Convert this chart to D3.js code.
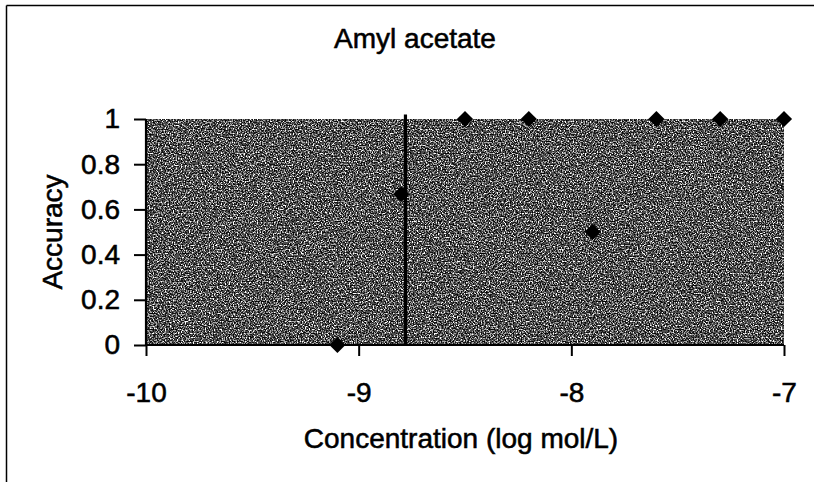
<!DOCTYPE html>
<html>
<head>
<meta charset="utf-8">
<script src="https://cdn.jsdelivr.net/npm/d3@7"></script>
<style>
  html, body { margin: 0; padding: 0; background: #fff; overflow: hidden; }
  svg { display: block; }
  text { font-family: "Liberation Sans", Arial, sans-serif; fill: #000; }
</style>
</head>
<body>
<svg id="chart" width="814" height="482"></svg>
<script>
// ---- data ----
const title = "Amyl acetate";
const xLabel = "Concentration (log mol/L)";
const yLabel = "Accuracy";
const concentration = [-9.1, -8.8, -8.5, -8.2, -7.9, -7.6, -7.3, -7.0];
const accuracy = [0, 0.667, 1, 1, 0.5, 1, 1, 1];
const threshold = -8.78;
const xTicks = [-10, -9, -8, -7];
const xTickLabels = ["-10", "-9", "-8", "-7"];
const yTicks = [0, 0.2, 0.4, 0.6, 0.8, 1];
const yTickLabels = ["0", "0.2", "0.4", "0.6", "0.8", "1"];

// ---- layout ----
const W = 814, H = 482;
const plot = { left: 146, right: 784, top: 119, bottom: 345 };
const FONT = '"Liberation Sans", Arial, sans-serif';
const TEXT_STROKE = 0.55;

const svg = d3.select("#chart");
const x = d3.scaleLinear().domain([-10, -7]).range([plot.left, plot.right]);
const y = d3.scaleLinear().domain([0, 1]).range([plot.bottom, plot.top]);

// texture filter for the scanned grey plot area
const defs = svg.append("defs");
const f = defs.append("filter").attr("id", "grain")
  .attr("color-interpolation-filters", "sRGB")
  .attr("x", 0).attr("y", 0).attr("width", "100%").attr("height", "100%");
f.append("feTurbulence").attr("type", "fractalNoise").attr("baseFrequency", 0.75)
  .attr("numOctaves", 1).attr("seed", 7).attr("result", "t");
f.append("feColorMatrix").attr("in", "t").attr("type", "matrix")
  .attr("values", "1 0 0 0 0  1 0 0 0 0  1 0 0 0 0  0 0 0 0 1")
  .attr("result", "g");
const ct = f.append("feComponentTransfer").attr("in", "g").attr("result", "d");
["feFuncR", "feFuncG", "feFuncB"].forEach(n =>
  ct.append(n).attr("type", "discrete").attr("tableValues", "0 0 0 0.08 0.3 0.66 1 1 1"));
ct.append("feFuncA").attr("type", "linear").attr("slope", 0).attr("intercept", 1);
f.append("feComposite").attr("in", "d").attr("in2", "SourceGraphic").attr("operator", "in");

// background
svg.append("rect").attr("width", W).attr("height", H).attr("fill", "#fff");
// outer frame: only top and left edges are inside the picture
svg.append("line").attr("x1", 6.5).attr("x2", W).attr("y1", 5.5).attr("y2", 5.5)
  .attr("stroke", "#000").attr("stroke-width", 1.5);
svg.append("line").attr("x1", 6.5).attr("x2", 6.5).attr("y1", 5.5).attr("y2", H)
  .attr("stroke", "#000").attr("stroke-width", 1.5);

// plot area
const pw = x(-7) - x(-10), ph = y(0) - y(1);
svg.append("rect").attr("x", x(-10)).attr("y", y(1)).attr("width", pw).attr("height", ph)
  .attr("fill", "#555");
svg.append("rect").attr("x", x(-10)).attr("y", y(1)).attr("width", pw).attr("height", ph)
  .attr("fill", "#555").attr("filter", "url(#grain)");

// title
svg.append("text").attr("x", 415).attr("y", 48)
  .attr("text-anchor", "middle").attr("font-size", 28)
  .attr("stroke", "#000").attr("stroke-width", TEXT_STROKE).text(title);

// axes
const xAxis = d3.axisBottom(x).tickValues(xTicks).tickFormat((d, i) => xTickLabels[i])
  .tickSize(11).tickPadding(26);
const gx = svg.append("g").attr("transform", `translate(0,${plot.bottom})`).call(xAxis);
const yAxis = d3.axisLeft(y).tickValues(yTicks).tickFormat((d, i) => yTickLabels[i])
  .tickSize(12).tickPadding(14);
const gy = svg.append("g").attr("transform", `translate(${plot.left},0)`).call(yAxis);

[gx, gy].forEach(g => {
  g.select(".domain").attr("stroke", "#000").attr("stroke-width", 2.2);
  g.selectAll(".tick line").attr("stroke", "#000").attr("stroke-width", 2);
  g.selectAll(".tick text").attr("font-size", 28).attr("font-family", FONT)
    .attr("fill", "#000").attr("stroke", "#000").attr("stroke-width", TEXT_STROKE);
});
gx.select(".domain").attr("d", `M${plot.left},0H${plot.right}`);
gy.select(".domain").attr("d", `M0,${plot.bottom}V${plot.top}`);

// axis titles
svg.append("text").attr("x", 461).attr("y", 448)
  .attr("text-anchor", "middle").attr("font-size", 28)
  .attr("stroke", "#000").attr("stroke-width", TEXT_STROKE).text(xLabel);
svg.append("text")
  .attr("transform", `translate(62,${(plot.top + plot.bottom) / 2}) rotate(-90)`)
  .attr("text-anchor", "middle").attr("font-size", 28)
  .attr("stroke", "#000").attr("stroke-width", TEXT_STROKE).text(yLabel);

// points
const pts = concentration.map((c, i) => ({ c, a: accuracy[i] }));
const diamond = d3.symbol().type(d3.symbolSquare).size(130);
svg.append("g").selectAll("path").data(pts).join("path")
  .attr("d", diamond)
  .attr("transform", d => `translate(${x(d.c)},${y(d.a)}) rotate(45)`)
  .attr("fill", "#000");

// threshold line
svg.append("line")
  .attr("x1", x(threshold)).attr("x2", x(threshold))
  .attr("y1", y(0)).attr("y2", y(1.02))
  .attr("stroke", "#000").attr("stroke-width", 3.2);
</script>
</body>
</html>
